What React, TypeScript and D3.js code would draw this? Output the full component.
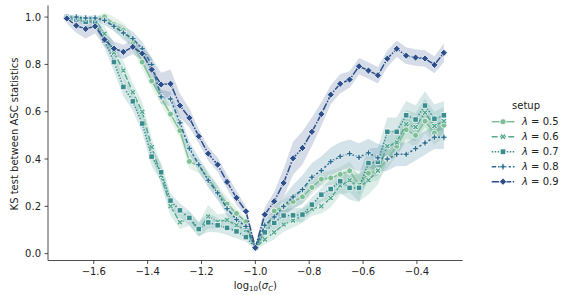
import * as d3 from 'd3';

const W = 568;
const H = 295;

// log10(sigma_C) grid
const xVals = [
  -1.7, -1.665, -1.63, -1.595, -1.56, -1.525, -1.49, -1.455, -1.42, -1.385,
  -1.35, -1.315, -1.28, -1.245, -1.21, -1.175, -1.14, -1.105, -1.07, -1.035,
  -1.0, -0.965, -0.93, -0.895, -0.86, -0.825, -0.79, -0.755, -0.72, -0.685,
  -0.65, -0.615, -0.58, -0.545, -0.51, -0.475, -0.44, -0.405, -0.37, -0.335, -0.3,
];

const lam05 = [
  1.0, 0.995, 0.99, 0.99, 1.0, 0.97, 0.945, 0.89, 0.81, 0.73,
  0.66, 0.59, 0.52, 0.39, 0.37, 0.32, 0.26, 0.21, 0.17, 0.135,
  0.025, 0.09, 0.18, 0.2, 0.22, 0.24, 0.28, 0.315, 0.32, 0.335,
  0.35, 0.29, 0.34, 0.35, 0.4, 0.454, 0.524, 0.5, 0.56, 0.51, 0.543,
];
const lam06 = [
  1.0, 0.995, 0.99, 0.99, 0.93, 0.85, 0.774, 0.682, 0.6, 0.45,
  0.33, 0.2, 0.133, 0.148, 0.1, 0.157, 0.135, 0.142, 0.12, 0.1,
  0.025, 0.06, 0.09, 0.123, 0.14, 0.16, 0.189, 0.2, 0.235, 0.288,
  0.31, 0.28, 0.31, 0.351, 0.454, 0.47, 0.547, 0.535, 0.596, 0.54, 0.56,
];
const lam07 = [
  1.0, 0.99, 0.98, 0.98, 0.9, 0.81, 0.705, 0.644, 0.55, 0.41,
  0.344, 0.224, 0.183, 0.151, 0.104, 0.132, 0.12, 0.109, 0.094, 0.07,
  0.025, 0.09, 0.13, 0.161, 0.162, 0.165, 0.207, 0.249, 0.273, 0.306,
  0.278, 0.278, 0.383, 0.388, 0.515, 0.515, 0.585, 0.567, 0.626, 0.57, 0.585,
];
const lam08 = [
  1.0, 1.0, 0.996, 0.996, 0.986, 0.961, 0.933, 0.909, 0.866, 0.799,
  0.663, 0.654, 0.553, 0.445, 0.376, 0.31, 0.257, 0.19, 0.144, 0.115,
  0.025, 0.12, 0.155, 0.2, 0.24, 0.271, 0.323, 0.351, 0.389, 0.411,
  0.423, 0.407, 0.426, 0.405, 0.4, 0.42, 0.42, 0.444, 0.468, 0.492, 0.492,
];
const lam09 = [
  0.994, 0.964, 0.95, 0.961, 0.905, 0.867, 0.853, 0.874, 0.846, 0.778,
  0.715, 0.718, 0.626, 0.574, 0.496, 0.423, 0.376, 0.303, 0.236, 0.179,
  0.025, 0.165, 0.221, 0.299, 0.403, 0.447, 0.515, 0.59, 0.672, 0.718,
  0.736, 0.792, 0.774, 0.754, 0.824, 0.866, 0.837, 0.829, 0.825, 0.798, 0.849,
];

// half width of the confidence band
const ci05 = [
  0.01, 0.01, 0.01, 0.01, 0.02, 0.03, 0.03, 0.03, 0.03, 0.03,
  0.03, 0.03, 0.03, 0.03, 0.03, 0.03, 0.03, 0.03, 0.02, 0.02,
  0.01, 0.02, 0.03, 0.03, 0.03, 0.03, 0.03, 0.03, 0.03, 0.03,
  0.04, 0.04, 0.04, 0.04, 0.04, 0.04, 0.05, 0.05, 0.05, 0.05, 0.05,
];
const ci06 = [
  0.01, 0.01, 0.01, 0.02, 0.03, 0.04, 0.04, 0.04, 0.04, 0.04,
  0.04, 0.04, 0.03, 0.03, 0.03, 0.05, 0.03, 0.03, 0.03, 0.02,
  0.01, 0.02, 0.03, 0.03, 0.03, 0.03, 0.03, 0.03, 0.04, 0.04,
  0.05, 0.06, 0.06, 0.06, 0.06, 0.06, 0.06, 0.06, 0.06, 0.06, 0.06,
];
const ci07 = [
  0.01, 0.01, 0.02, 0.02, 0.03, 0.04, 0.04, 0.04, 0.04, 0.04,
  0.04, 0.03, 0.03, 0.03, 0.03, 0.04, 0.03, 0.03, 0.03, 0.02,
  0.01, 0.02, 0.03, 0.03, 0.03, 0.03, 0.03, 0.03, 0.04, 0.05,
  0.05, 0.06, 0.06, 0.06, 0.06, 0.06, 0.06, 0.06, 0.06, 0.06, 0.06,
];
const ci08 = [
  0.01, 0.01, 0.01, 0.01, 0.02, 0.02, 0.03, 0.03, 0.03, 0.03,
  0.03, 0.03, 0.03, 0.03, 0.03, 0.03, 0.03, 0.03, 0.03, 0.02,
  0.01, 0.02, 0.03, 0.04, 0.05, 0.06, 0.06, 0.06, 0.06, 0.06,
  0.06, 0.06, 0.06, 0.06, 0.05, 0.05, 0.05, 0.05, 0.05, 0.05, 0.05,
];
const ci09 = [
  0.02, 0.03, 0.04, 0.03, 0.03, 0.03, 0.03, 0.03, 0.03, 0.05,
  0.05, 0.06, 0.05, 0.04, 0.03, 0.03, 0.03, 0.03, 0.03, 0.02,
  0.01, 0.03, 0.04, 0.06, 0.07, 0.07, 0.06, 0.05, 0.04, 0.04,
  0.035, 0.035, 0.035, 0.035, 0.035, 0.035, 0.035, 0.035, 0.035, 0.035, 0.04,
];

const labels = ['0.5', '0.6', '0.7', '0.8', '0.9'];
const xTicks = [-1.6, -1.4, -1.2, -1.0, -0.8, -0.6, -0.4];
const yTicks = [0, 0.2, 0.4, 0.6, 0.8, 1.0];

const series = [
  { label: labels[0], values: lam05, ci: ci05, color: '#7cbf94', dash: '', marker: 'o' },
  { label: labels[1], values: lam06, ci: ci06, color: '#56a891', dash: '6 2.25', marker: 'X' },
  { label: labels[2], values: lam07, ci: ci07, color: '#3a8d8f', dash: '1.5 1.5', marker: 's' },
  { label: labels[3], values: lam08, ci: ci08, color: '#2a6f91', dash: '4.5 1.9 2.25 1.9', marker: 'P' },
  { label: labels[4], values: lam09, ci: ci09, color: '#2c4f8c', dash: '7.5 1.5 1.5 1.5', marker: 'D' },
];

const margin = { left: 48, right: 462.7, top: 5.5, bottom: 260.5 };
const font = 'DejaVu Sans, sans-serif';

const markerPath = (m: string) => {
  if (m === 'o') return d3.symbol(d3.symbolCircle, 28)()!;
  if (m === 's') return d3.symbol(d3.symbolSquare, 30)()!;
  if (m === 'P' || m === 'X') return d3.symbol(d3.symbolCross, 22)()!;
  return d3.symbol(d3.symbolSquare, 26)()!;
};
const markerRot = (m: string) => (m === 'X' || m === 'D' ? 45 : 0);

export default function App() {
  const x = d3.scaleLinear().domain([-1.77, -0.23]).range([margin.left, margin.right]);
  const y = d3.scaleLinear().domain([-0.029, 1.049]).range([margin.bottom, margin.top]);
  const fmt = (v: number) => d3.format('.1f')(v).replace('-', '\u2212');

  const line = d3.line<number>().x((_, i) => x(xVals[i])).y((d) => y(d));

  return (
    <svg width={W} height={H} style={{ position: 'absolute', left: 0, top: 0, background: '#fff' }} fontFamily={font}>
      {/* bands below all lines */}
      {series.map((s) => {
        const area = d3
          .area<number>()
          .x((_, i) => x(xVals[i]))
          .y0((d, i) => y(d - s.ci[i]))
          .y1((d, i) => y(d + s.ci[i]));
        return <path key={'b' + s.label} d={area(s.values)!} fill={s.color} fillOpacity={0.2} stroke="none" />;
      })}
      {series.map((s) => (
        <g key={'l' + s.label}>
          <path d={line(s.values)!} fill="none" stroke={s.color} strokeWidth={1.5} strokeDasharray={s.dash || undefined} />
          {s.values.map((v, i) => (
            <path
              key={i}
              d={markerPath(s.marker)}
              transform={`translate(${x(xVals[i])},${y(v)}) rotate(${markerRot(s.marker)})`}
              fill={s.color}
              stroke="#fff"
              strokeWidth={0.75}
            />
          ))}
        </g>
      ))}

      {/* axes */}
      <line x1={margin.left} x2={margin.left} y1={margin.top} y2={margin.bottom} stroke="#222" strokeWidth={0.8} />
      <line x1={margin.left} x2={margin.right} y1={margin.bottom} y2={margin.bottom} stroke="#222" strokeWidth={0.8} />
      {yTicks.map((t) => (
        <g key={'y' + t}>
          <line x1={margin.left - 3.5} x2={margin.left} y1={y(t)} y2={y(t)} stroke="#222" strokeWidth={0.8} />
          <text x={margin.left - 7} y={y(t) + 3.6} fontSize={10} textAnchor="end" fill="#222">
            {fmt(t)}
          </text>
        </g>
      ))}
      {xTicks.map((t) => (
        <g key={'x' + t}>
          <line x1={x(t)} x2={x(t)} y1={margin.bottom} y2={margin.bottom + 3.5} stroke="#222" strokeWidth={0.8} />
          <text x={x(t)} y={274.5} fontSize={10} textAnchor="middle" fill="#222">
            {fmt(t)}
          </text>
        </g>
      ))}
      <text x={(margin.left + margin.right) / 2} y={289} fontSize={10} textAnchor="middle" fill="#222">
        log<tspan fontSize={7} dy={2}>10</tspan>
        <tspan dy={-2}>(</tspan>
        <tspan fontStyle="italic">σ</tspan>
        <tspan fontSize={7} dy={2} fontStyle="italic">C</tspan>
        <tspan dy={-2}>)</tspan>
      </text>
      <text transform={`translate(18,${134}) rotate(-90)`} fontSize={10} textAnchor="middle" fill="#222">
        KS test between ASC statistics
      </text>

      {/* legend */}
      <text x={526} y={109} fontSize={10} textAnchor="middle" fill="#222">setup</text>
      {series.map((s, k) => {
        const ly = 121.7 + k * 15;
        return (
          <g key={'g' + s.label}>
            <line x1={491.7} x2={514.5} y1={ly} y2={ly} stroke={s.color} strokeWidth={1.5} strokeDasharray={s.dash || undefined} />
            <path
              d={markerPath(s.marker)}
              transform={`translate(503,${ly}) rotate(${markerRot(s.marker)})`}
              fill={s.color}
              stroke="#fff"
              strokeWidth={0.75}
            />
            <text x={522} y={ly + 3.6} fontSize={10} fill="#222">
              <tspan fontStyle="italic">λ</tspan> = {s.label}
            </text>
          </g>
        );
      })}
    </svg>
  );
}
